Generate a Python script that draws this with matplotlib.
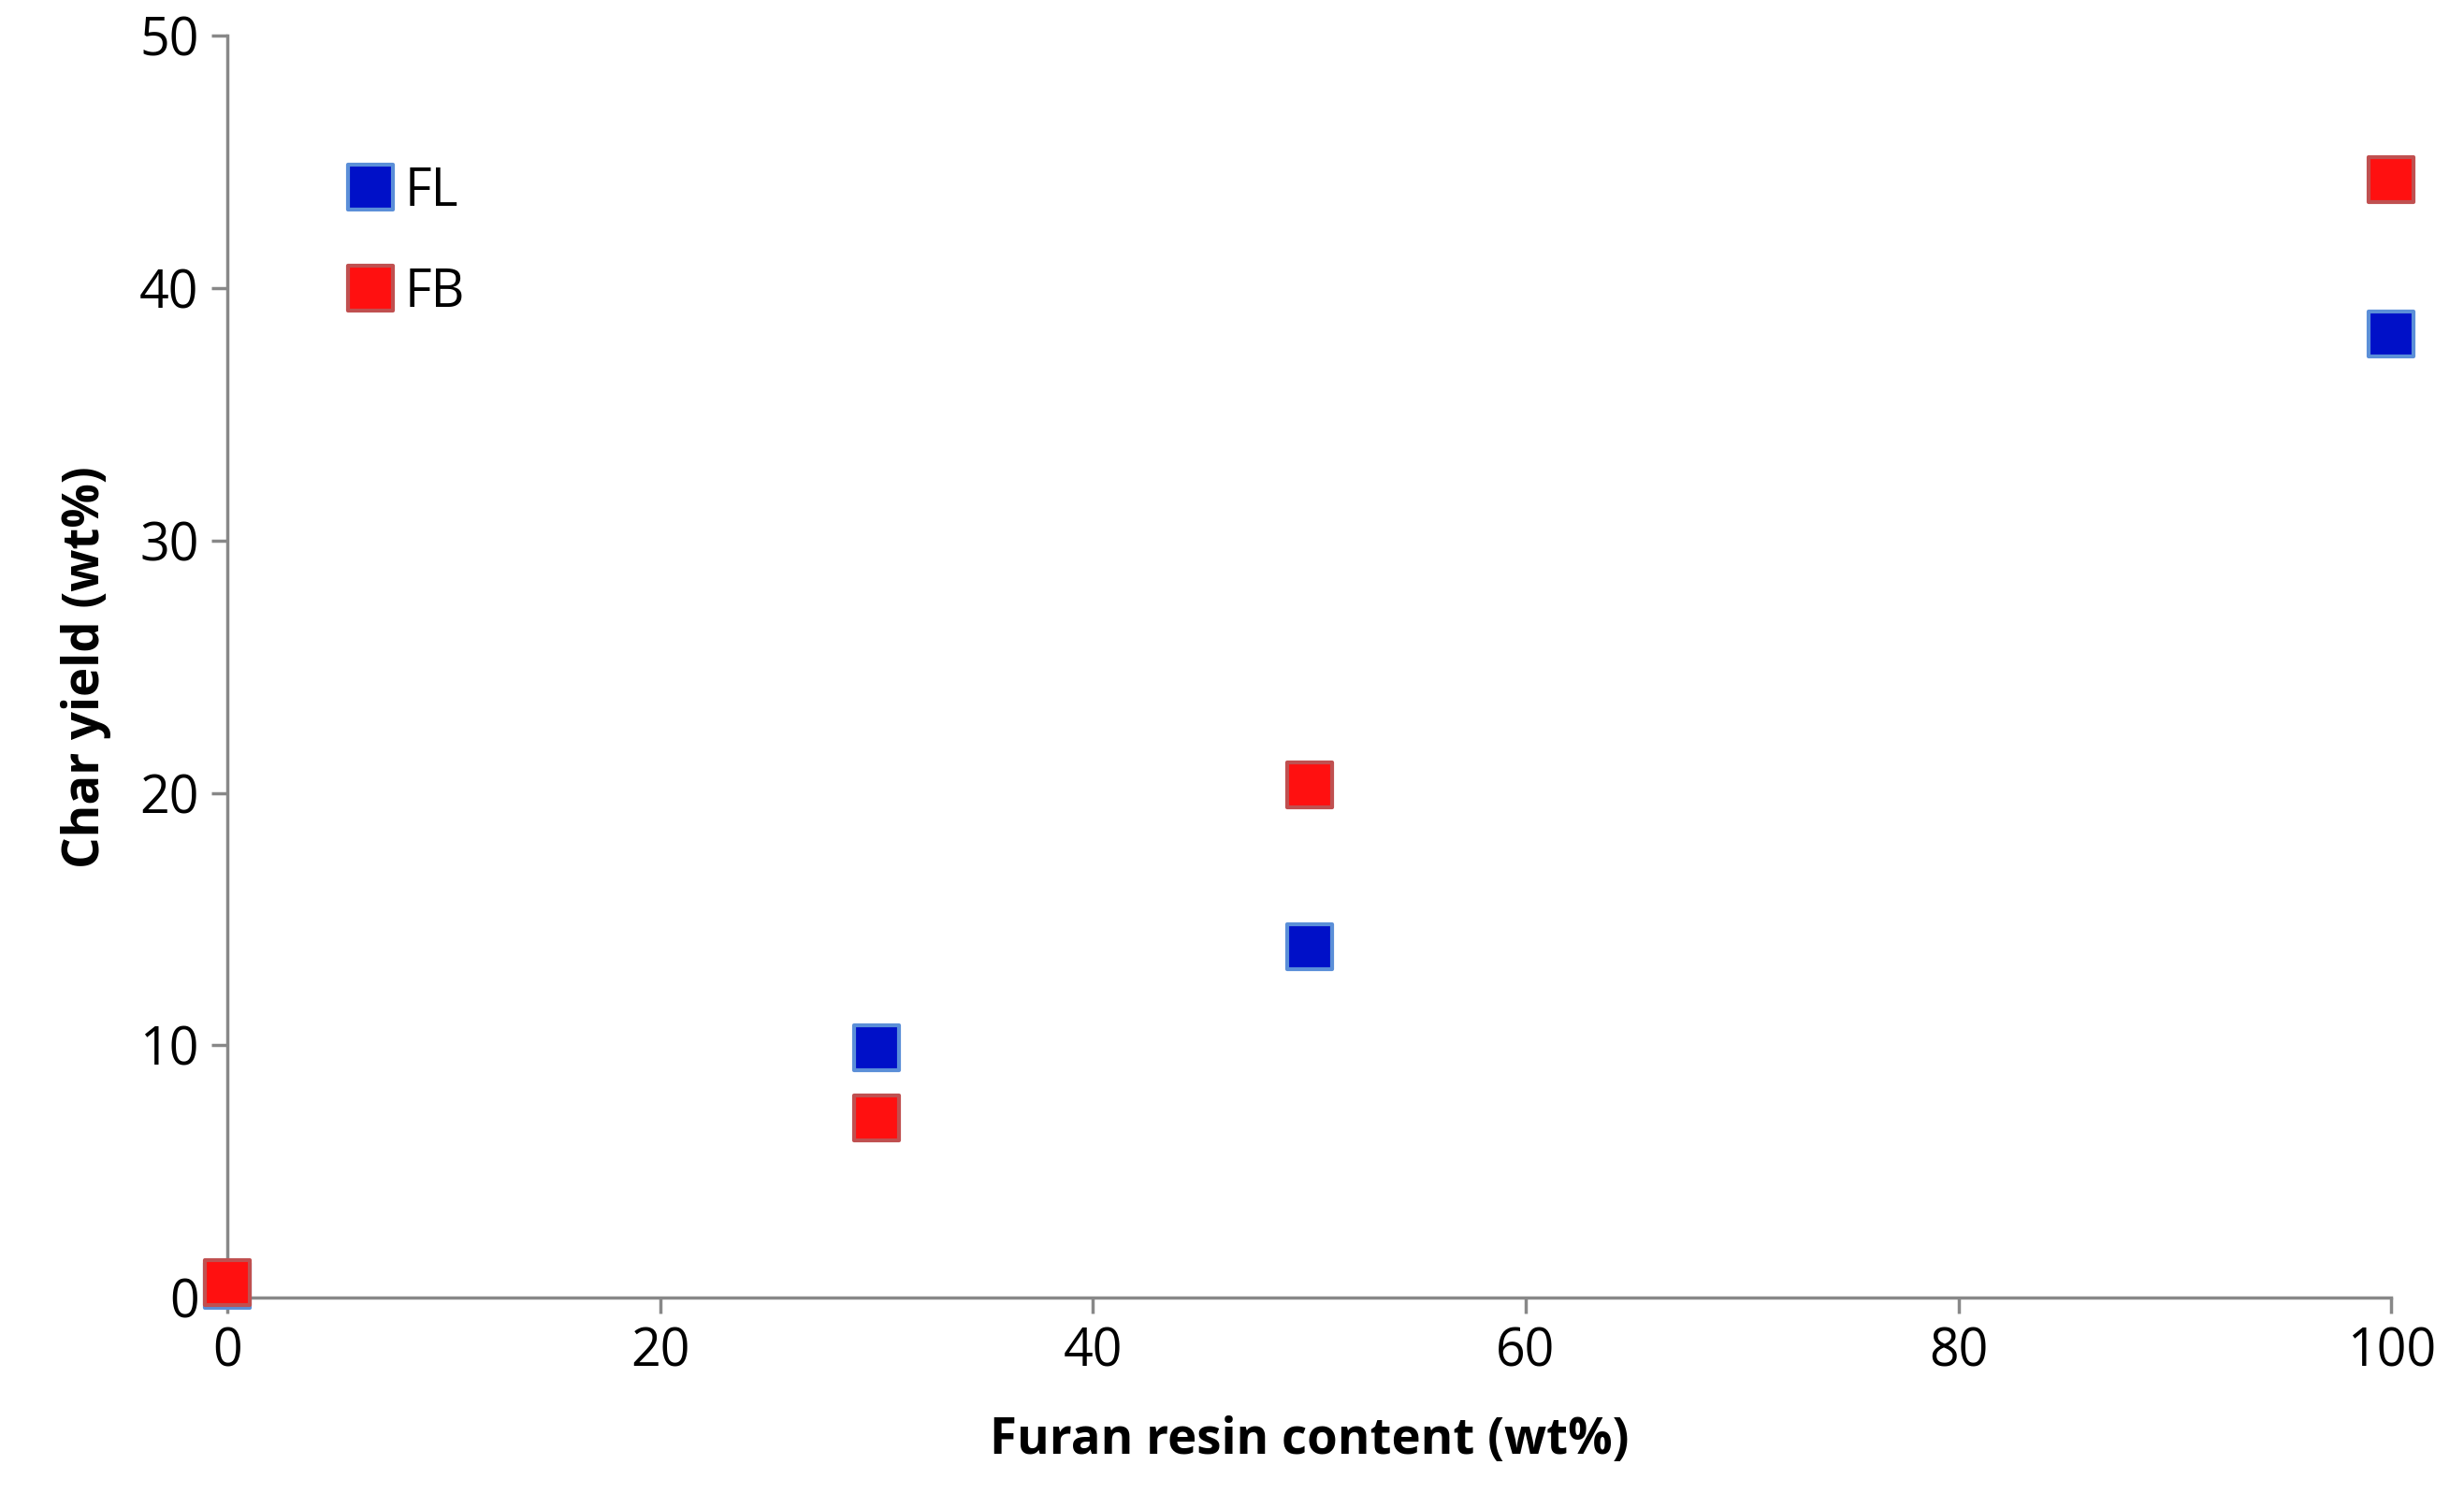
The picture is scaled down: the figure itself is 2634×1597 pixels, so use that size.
import matplotlib
matplotlib.use("Agg")
import matplotlib.pyplot as plt

fl_x = [0, 30, 50, 100]
fl_y = [0.5, 9.9, 13.9, 38.2]
fb_x = [0, 30, 50, 100]
fb_y = [0.6, 7.1, 20.3, 44.3]

plt.rcParams['font.family'] = ['Open Sans', 'DejaVu Sans']
fig = plt.figure(figsize=(26.34, 15.97), dpi=100)
ax = fig.add_axes([0.0923, 0.1315, 0.8827 - 0.0045, 0.8445])
ax.scatter(fl_x, fl_y, marker='s', s=34**2, c='#0010C8', edgecolors='#5B8FD8', linewidths=3, zorder=3, clip_on=False)
ax.scatter(fb_x, fb_y, marker='s', s=34**2, c='#FF1010', edgecolors='#C05050', linewidths=3, zorder=4, clip_on=False)
ax.set_xlim(0, 100)
ax.set_ylim(0, 50)
ax.set_xticks(range(0, 101, 20))
ax.set_yticks(range(0, 51, 10))
for s in ['top', 'right']:
    ax.spines[s].set_visible(False)
for s in ['left', 'bottom']:
    ax.spines[s].set_color('#888888')
    ax.spines[s].set_linewidth(2.5)
ax.tick_params(axis='both', labelsize=40, color='#888888', width=2.5, length=12, pad=10)
ax.set_xlabel('Furan resin content (wt%)', fontsize=38, fontweight='bold', labelpad=28)
ax.set_ylabel('Char yield (wt%)', fontsize=38, fontweight='bold', labelpad=22)

ax.scatter([6.6], [44.0], marker='s', s=34**2, c='#0010C8', edgecolors='#5B8FD8', linewidths=3)
ax.scatter([6.6], [40.0], marker='s', s=34**2, c='#FF1010', edgecolors='#C05050', linewidths=3)
ax.text(8.2, 43.8, 'FL', fontsize=40, va='center')
ax.text(8.2, 39.8, 'FB', fontsize=40, va='center')
fig.savefig('out.png', dpi=100)
